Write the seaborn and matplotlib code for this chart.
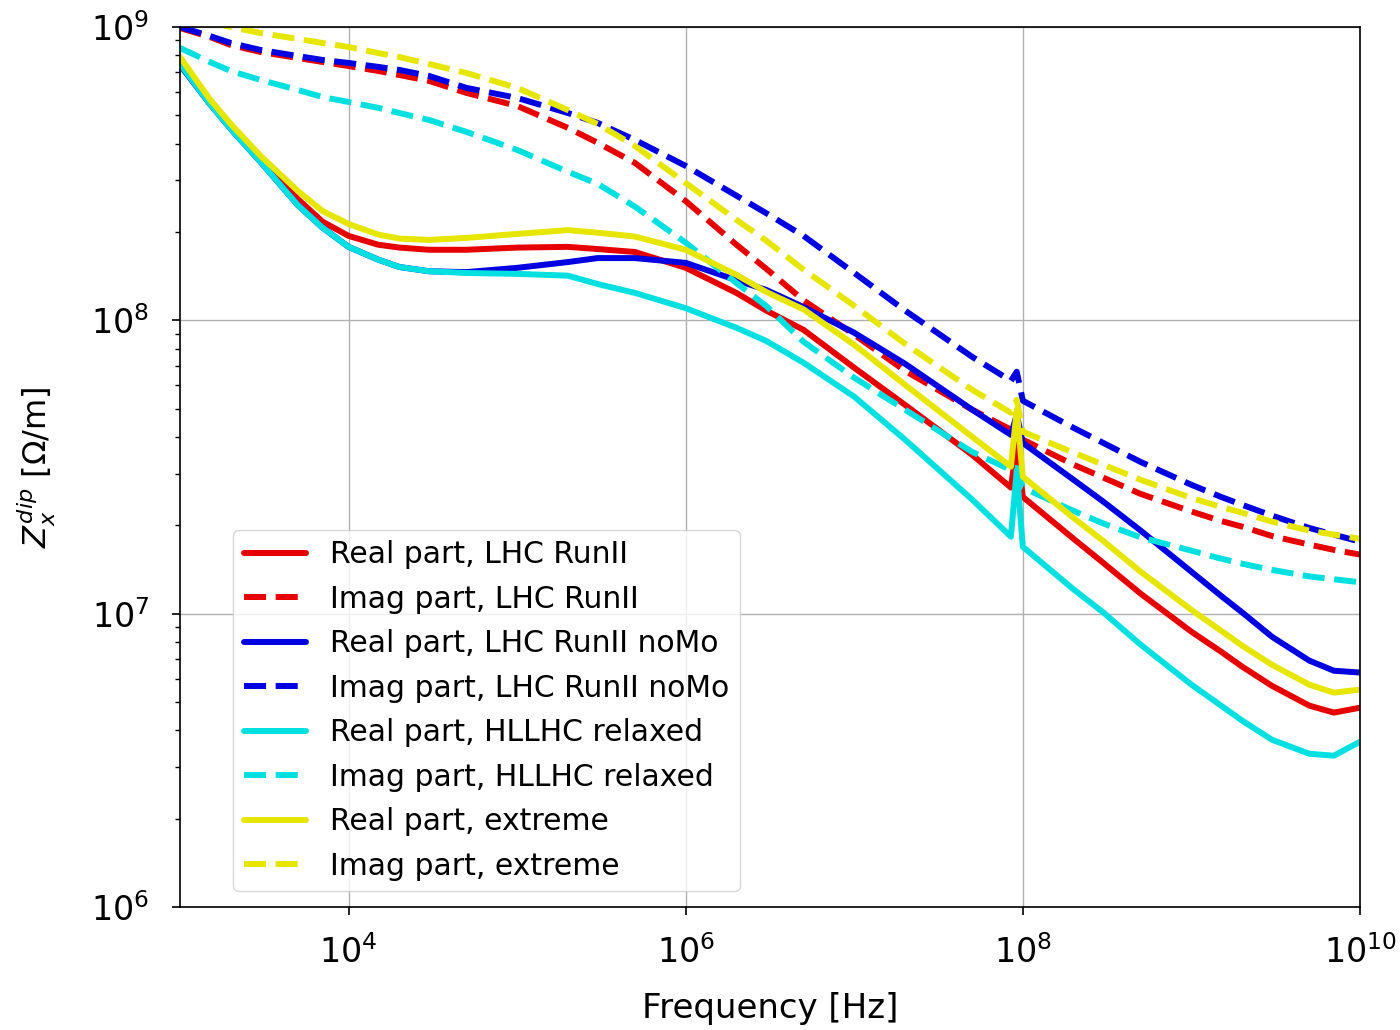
import numpy as np
import pandas as pd
import matplotlib
matplotlib.use("Agg")
import matplotlib.pyplot as plt
import matplotlib.ticker as mticker
import seaborn as sns

# ---------------- data ----------------
freq = [1e3, 1.5e3, 2e3, 3e3, 5e3, 7e3, 1e4, 1.5e4, 2e4, 3e4, 5e4, 1e5, 2e5, 3e5,
        5e5, 1e6, 2e6, 3e6, 5e6, 1e7, 2e7, 5e7, 8.5e7, 9.2e7, 1e8, 2e8, 3e8,
        5e8, 1e9, 1.5e9, 2e9, 3e9, 5e9, 7e9, 1e10]

re_lhc = [7.72e8, 5.60e8, 4.60e8, 3.58e8, 2.59e8, 2.17e8, 1.94e8, 1.81e8, 1.77e8,
          1.74e8, 1.74e8, 1.77e8, 1.78e8, 1.75e8, 1.71e8, 1.51e8, 1.24e8, 1.08e8,
          9.28e7, 6.89e7, 5.15e7, 3.48e7, 2.69e7, 3.77e7, 2.50e7, 1.80e7, 1.49e7,
          1.17e7, 8.68e6, 7.42e6, 6.60e6, 5.68e6, 4.86e6, 4.60e6, 4.78e6]
im_lhc = [9.92e8, 9.25e8, 8.68e8, 8.22e8, 7.84e8, 7.60e8, 7.36e8, 7.08e8, 6.86e8,
          6.55e8, 5.96e8, 5.38e8, 4.53e8, 4.03e8, 3.44e8, 2.55e8, 1.81e8, 1.50e8,
          1.17e8, 8.93e7, 6.73e7, 4.96e7, 4.24e7, 4.07e7, 3.92e7, 3.22e7, 2.91e7,
          2.56e7, 2.23e7, 2.07e7, 1.98e7, 1.84e7, 1.72e7, 1.65e7, 1.59e7]
re_nomo = [7.42e8, 5.47e8, 4.49e8, 3.47e8, 2.47e8, 2.07e8, 1.78e8, 1.61e8, 1.52e8,
           1.47e8, 1.46e8, 1.51e8, 1.58e8, 1.63e8, 1.63e8, 1.57e8, 1.37e8, 1.27e8,
           1.11e8, 9.07e7, 7.11e7, 4.96e7, 4.07e7, 4.76e7, 3.82e7, 2.86e7, 2.41e7,
           1.92e7, 1.39e7, 1.15e7, 1.01e7, 8.35e6, 6.92e6, 6.39e6, 6.30e6]
im_nomo = [1.00e9, 9.32e8, 8.82e8, 8.35e8, 7.96e8, 7.72e8, 7.54e8, 7.31e8, 7.14e8,
           6.81e8, 6.20e8, 5.73e8, 5.09e8, 4.71e8, 4.12e8, 3.36e8, 2.66e8, 2.32e8,
           1.94e8, 1.45e8, 1.08e8, 7.51e7, 6.22e7, 6.68e7, 5.32e7, 4.30e7, 3.82e7,
           3.29e7, 2.75e7, 2.50e7, 2.35e7, 2.16e7, 1.96e7, 1.86e7, 1.76e7]
re_hl = [7.48e8, 5.47e8, 4.49e8, 3.47e8, 2.47e8, 2.07e8, 1.78e8, 1.61e8, 1.52e8,
         1.47e8, 1.45e8, 1.44e8, 1.42e8, 1.33e8, 1.24e8, 1.10e8, 9.43e7, 8.51e7,
         7.17e7, 5.49e7, 3.92e7, 2.45e7, 1.83e7, 3.09e7, 1.69e7, 1.21e7, 1.01e7,
         7.84e6, 5.73e6, 4.86e6, 4.32e6, 3.72e6, 3.33e6, 3.28e6, 3.66e6]
im_hl = [8.48e8, 7.60e8, 7.08e8, 6.60e8, 6.10e8, 5.77e8, 5.55e8, 5.30e8, 5.09e8,
         4.82e8, 4.39e8, 3.81e8, 3.21e8, 2.92e8, 2.44e8, 1.84e8, 1.34e8, 1.12e8,
         8.45e7, 6.37e7, 4.96e7, 3.56e7, 3.09e7, 3.14e7, 2.69e7, 2.24e7, 2.03e7,
         1.82e7, 1.64e7, 1.54e7, 1.48e7, 1.41e7, 1.34e7, 1.31e7, 1.28e7]
re_ext = [7.90e8, 5.68e8, 4.67e8, 3.64e8, 2.76e8, 2.36e8, 2.13e8, 1.96e8, 1.90e8,
          1.88e8, 1.91e8, 1.97e8, 2.03e8, 1.99e8, 1.93e8, 1.74e8, 1.43e8, 1.25e8,
          1.09e8, 8.25e7, 6.03e7, 4.01e7, 3.17e7, 4.96e7, 2.93e7, 2.12e7, 1.77e7,
          1.39e7, 1.03e7, 8.75e6, 7.78e6, 6.70e6, 5.73e6, 5.38e6, 5.51e6]
im_ext = [1.11e9, 1.04e9, 1.00e9, 9.54e8, 9.10e8, 8.82e8, 8.55e8, 8.15e8, 7.90e8,
          7.48e8, 6.97e8, 6.20e8, 5.21e8, 4.67e8, 3.93e8, 2.94e8, 2.20e8, 1.87e8,
          1.49e8, 1.12e8, 8.32e7, 5.80e7, 4.84e7, 5.36e7, 4.17e7, 3.54e7, 3.22e7,
          2.86e7, 2.48e7, 2.31e7, 2.21e7, 2.06e7, 1.92e7, 1.86e7, 1.80e7]

labels = ["Real part, LHC RunII", "Imag part, LHC RunII",
          "Real part, LHC RunII noMo", "Imag part, LHC RunII noMo",
          "Real part, HLLHC relaxed", "Imag part, HLLHC relaxed",
          "Real part, extreme", "Imag part, extreme"]
series = [re_lhc, im_lhc, re_nomo, im_nomo, re_hl, im_hl, re_ext, im_ext]
colors = ["#e60000", "#e60000", "#0000e0", "#0000e0",
          "#00e0e0", "#00e0e0", "#e6e600", "#e6e600"]
styles = ["-", "--", "-", "--", "-", "--", "-", "--"]

# ---------------- plot ----------------
sns.set_theme(style="white")
plt.rcParams["font.family"] = ["DejaVu Sans"]
plt.rcParams["mathtext.fontset"] = "dejavusans"
for k in ["text.color", "axes.labelcolor", "xtick.color", "ytick.color"]:
    plt.rcParams[k] = "black"
plt.rcParams["lines.dashed_pattern"] = (3.7, 1.6)

fig = plt.figure(figsize=(14, 10.3), dpi=100)
ax = fig.add_axes([0.1286, 0.1194, 0.8428, 0.8544])

for lab, vals, col, ls in zip(labels, series, colors, styles):
    df = pd.DataFrame({"f": freq, "z": vals})
    sns.lineplot(data=df, x="f", y="z", ax=ax, color=col, linestyle=ls,
                 linewidth=4.3, label=lab, sort=True, estimator=None)

ax.set_xscale("log")
ax.set_yscale("log")
ax.set_xlim(1e3, 1e10)
ax.set_ylim(1e6, 1e9)

ax.xaxis.set_major_locator(mticker.FixedLocator([1e4, 1e6, 1e8, 1e10]))
ax.xaxis.set_minor_locator(mticker.NullLocator())
ax.yaxis.set_major_locator(mticker.LogLocator(base=10, numticks=10))
ax.yaxis.set_minor_locator(mticker.LogLocator(base=10, subs=np.arange(2, 10), numticks=20))
ax.xaxis.set_major_formatter(mticker.LogFormatterMathtext())
ax.yaxis.set_major_formatter(mticker.LogFormatterMathtext())
ax.yaxis.set_minor_formatter(mticker.NullFormatter())

ax.grid(True, which="major", color="#b0b0b0", linewidth=1.0)
ax.set_axisbelow(True)
for sp in ax.spines.values():
    sp.set_color("black")
    sp.set_linewidth(1.2)

ax.tick_params(axis="x", which="major", direction="out", length=6, width=1.2,
               labelsize=24, colors="black", bottom=True, pad=14)
ax.tick_params(axis="y", which="major", direction="out", length=6, width=1.2,
               labelsize=24, colors="black", left=True, pad=16)
ax.tick_params(axis="y", which="minor", direction="out", length=3.5, width=1.0,
               color="black", left=True)

ax.set_xlabel("Frequency [Hz]", fontsize=24.5, labelpad=16, color="black")
ax.set_ylabel(r"$Z_x^{dip}$ [$\Omega$/m]", fontsize=23, labelpad=24, color="black")

leg = ax.legend(loc="lower left", bbox_to_anchor=(0.045, 0.018), borderaxespad=0,
                fontsize=21.5, handlelength=2.1, frameon=True, framealpha=0.8,
                edgecolor="#cccccc", fancybox=True, labelspacing=0.52,
                handletextpad=0.8, borderpad=0.35)
for t in leg.get_texts():
    t.set_color("black")

fig.savefig("out.png", dpi=100)
